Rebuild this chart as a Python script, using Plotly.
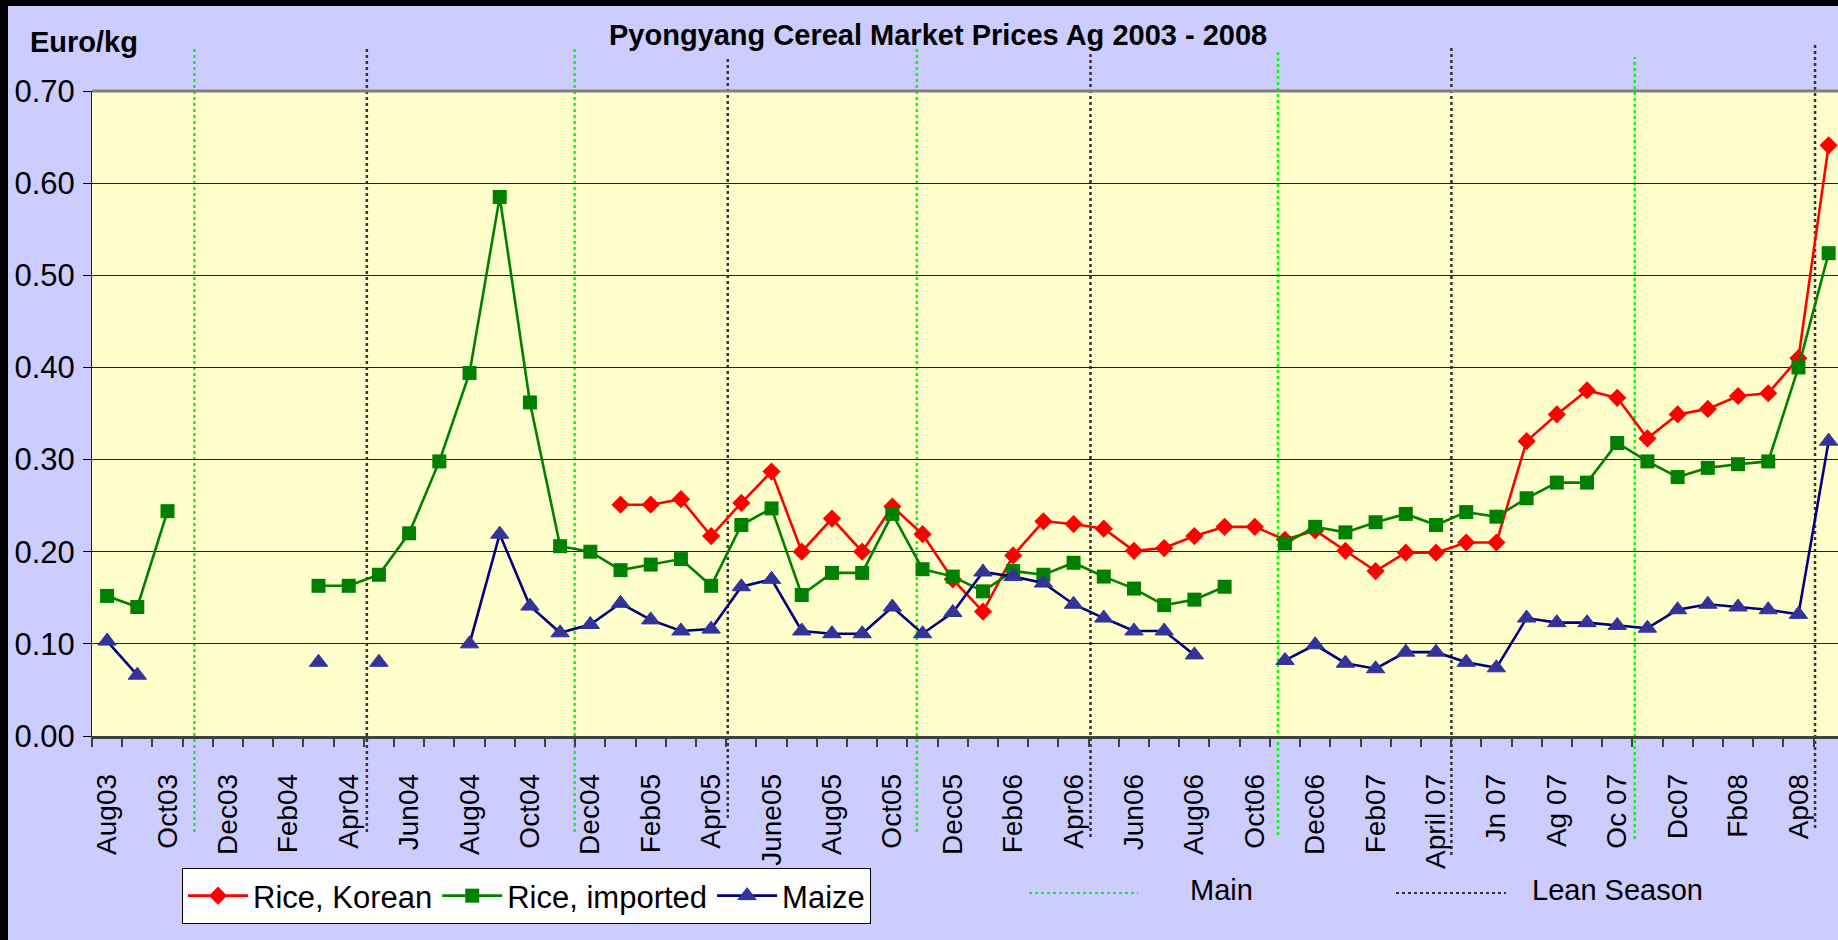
import plotly.graph_objects as go

# ---------------- data ----------------
months = ["Aug03", "Sep03", "Oct03", "Nov03", "Dec03", "Jan04", "Feb04", "Mar04", "Apr04", "May04", "Jun04", "Jul04",
          "Aug04", "Sep04", "Oct04", "Nov04", "Dec04", "Jan05", "Feb05", "Mar05", "Apr05", "May05", "Jun05", "Jul05",
          "Aug05", "Sep05", "Oct05", "Nov05", "Dec05", "Jan06", "Feb06", "Mar06", "Apr06", "May06", "Jun06", "Jul06",
          "Aug06", "Sep06", "Oct06", "Nov06", "Dec06", "Jan07", "Feb07", "Mar07", "Apr07", "May07", "Jun07", "Jul07",
          "Aug07", "Sep07", "Oct07", "Nov07", "Dec07", "Jan08", "Feb08", "Mar08", "Apr08", "May08"]

tick_labels = ["Aug03", "Oct03", "Dec03", "Feb04", "Apr04", "Jun04", "Aug04", "Oct04", "Dec04", "Feb05",
               "Apr05", "June05", "Aug05", "Oct05", "Dec05", "Feb06", "Apr06", "Jun06", "Aug06", "Oct06",
               "Dec06", "Feb07", "April 07", "Jn 07", "Ag 07", "Oc 07", "Dc07", "Fb08", "Ap08"]

rice_korean = [None, None, None, None, None, None, None, None, None, None, None, None,
               None, None, None, None, None, 0.251, 0.251, 0.257, 0.217, 0.253, 0.287, 0.200,
               0.236, 0.200, 0.249, 0.219, 0.170, 0.135, 0.196, 0.233, 0.230, 0.225, 0.201, 0.204,
               0.217, 0.227, 0.227, 0.213, 0.223, 0.201, 0.179, 0.199, 0.199, 0.210, 0.210, 0.320,
               0.349, 0.375, 0.367, 0.323, 0.349, 0.355, 0.369, 0.372, 0.410, 0.641]

rice_imported = [0.152, 0.140, 0.244, None, None, None, None, 0.163, 0.163, 0.175, 0.220, 0.298,
                 0.394, 0.585, 0.362, 0.206, 0.200, 0.180, 0.186, 0.192, 0.163, 0.229, 0.247, 0.153,
                 0.177, 0.177, 0.241, 0.181, 0.173, 0.157, 0.179, 0.175, 0.188, 0.173, 0.160, 0.142,
                 0.148, 0.162, None, 0.209, 0.227, 0.221, 0.232, 0.241, 0.229, 0.243, 0.238, 0.258,
                 0.275, 0.275, 0.318, 0.298, 0.281, 0.291, 0.295, 0.298, 0.400, 0.524]

maize = [0.103, 0.066, None, None, None, None, None, 0.080, None, 0.080, None, None,
         0.100, 0.219, 0.141, 0.112, 0.121, 0.144, 0.126, 0.114, 0.116, 0.162, 0.170, 0.114,
         0.111, 0.111, 0.140, 0.111, 0.134, 0.178, 0.173, 0.166, 0.143, 0.128, 0.114, 0.114,
         0.088, None, None, 0.082, 0.099, 0.079, 0.073, 0.091, 0.091, 0.080, 0.074, 0.128,
         0.123, 0.123, 0.120, 0.117, 0.137, 0.143, 0.140, 0.137, 0.132, 0.320]

# season marker lines (positions in category units)
main_season_x = [2.89, 15.48, 26.81, 38.77, 50.58]
lean_season_x = [8.60, 20.55, 32.56, 44.51, 56.55]

# ---------------- layout geometry (pixels) ----------------
FIG_W, FIG_H = 1838, 940
L, R, T, B = 92, 1838, 91, 736
PW, PH = R - L, B - T


def px_x(px):
    return (px - L) / PW


def px_y(py):
    return (B - py) / PH


FONT = "Liberation Sans, Arial, Helvetica, sans-serif"

fig = go.Figure()
fig.add_trace(go.Scatter(
    x=months, y=rice_korean, name="Rice, Korean", mode="lines+markers",
    line=dict(color="#FF0000", width=2.6),
    marker=dict(symbol="diamond", size=14, color="#FF0000"),
))
fig.add_trace(go.Scatter(
    x=months, y=rice_imported, name="Rice, imported", mode="lines+markers",
    line=dict(color="#008000", width=2.6),
    marker=dict(symbol="square", size=14, color="#008000"),
))
fig.add_trace(go.Scatter(
    x=months, y=maize, name="Maize", mode="lines+markers",
    line=dict(color="#000080", width=2.6),
    marker=dict(symbol="triangle-up", size=16, color="#333399",
                line=dict(color="#333399", width=1)),
))

shapes = []
main_tops = [48, 48, 48, 52, 57]
main_bottoms = [832, 832, 832, 835, 839]
lean_tops = [48, 57, 52, 45, 45]
lean_bottoms = [832, 818, 837, 855, 828]
for xv, t, b in zip(main_season_x, main_tops, main_bottoms):
    shapes.append(dict(type="line", xref="x", yref="paper", x0=xv, x1=xv,
                       y0=px_y(b), y1=px_y(t), layer="between",
                       line=dict(color="#00FF00", width=2.5, dash="dot")))
for xv, t, b in zip(lean_season_x, lean_tops, lean_bottoms):
    shapes.append(dict(type="line", xref="x", yref="paper", x0=xv, x1=xv,
                       y0=px_y(b), y1=px_y(t), layer="between",
                       line=dict(color="#333333", width=2.5, dash="dot")))

# top border of plot area
shapes.append(dict(type="line", xref="paper", yref="paper", x0=0, x1=1, y0=1, y1=1,
                   line=dict(color="#808080", width=3)))
# black frame at left and top of image
shapes.append(dict(type="rect", xref="paper", yref="paper", x0=px_x(0), x1=px_x(8),
                   y0=px_y(FIG_H), y1=px_y(0), fillcolor="black", line=dict(width=0)))
shapes.append(dict(type="rect", xref="paper", yref="paper", x0=px_x(0), x1=px_x(FIG_W),
                   y0=px_y(6), y1=px_y(0), fillcolor="black", line=dict(width=0)))
# season legend samples
shapes.append(dict(type="line", xref="paper", yref="paper", x0=px_x(1029), x1=px_x(1138),
                   y0=px_y(893), y1=px_y(893), line=dict(color="#00FF00", width=2, dash="dot")))
shapes.append(dict(type="line", xref="paper", yref="paper", x0=px_x(1396), x1=px_x(1506),
                   y0=px_y(893), y1=px_y(893), line=dict(color="#333333", width=2, dash="dot")))

annotations = [
    dict(text="<b>Pyongyang Cereal Market Prices Ag 2003 - 2008</b>", xref="paper", yref="paper",
         x=px_x(938), y=px_y(35), xanchor="center", yanchor="middle", showarrow=False,
         font=dict(family=FONT, size=29, color="black")),
    dict(text="<b>Euro/kg</b>", xref="paper", yref="paper",
         x=px_x(28), y=px_y(42), xanchor="left", yanchor="middle", showarrow=False,
         font=dict(family=FONT, size=29, color="black")),
    dict(text="Main", xref="paper", yref="paper",
         x=px_x(1188), y=px_y(890), xanchor="left", yanchor="middle", showarrow=False,
         font=dict(family=FONT, size=29, color="black")),
    dict(text="Lean Season", xref="paper", yref="paper",
         x=px_x(1530), y=px_y(890), xanchor="left", yanchor="middle", showarrow=False,
         font=dict(family=FONT, size=29, color="black")),
]

fig.update_layout(
    width=FIG_W, height=FIG_H,
    margin=dict(l=L, r=FIG_W - R, t=T, b=FIG_H - B, autoexpand=False),
    paper_bgcolor="#CCCCFF",
    plot_bgcolor="#FFFFCC",
    font=dict(family=FONT, color="black"),
    showlegend=True,
    legend=dict(orientation="h", x=px_x(182), y=px_y(868), xanchor="left", yanchor="top",
                bgcolor="white", bordercolor="black", borderwidth=1,
                font=dict(family=FONT, size=31, color="black"),
                itemwidth=60),
    shapes=shapes,
    annotations=annotations,
)

fig.update_xaxes(
    type="category", categoryorder="array", categoryarray=months,
    range=[-0.5, 57.31], automargin=False,
    tickmode="array", tickvals=months[::2], ticktext=tick_labels,
    tickangle=-90, tickfont=dict(family=FONT, size=28, color="black"),
    ticks="outside", ticklen=8, tickcolor="rgba(0,0,0,0)", ticklabelstandoff=16,
    minor=dict(tickmode="array", tickvals=[i - 0.5 for i in range(len(months) + 1)],
               ticks="outside", ticklen=8, tickcolor="#404040", tickwidth=1.5),
    showline=True, linecolor="#404040", linewidth=2.5,
    showgrid=False, zeroline=False,
)
fig.update_yaxes(
    range=[0, 0.7], automargin=False,
    tickmode="linear", tick0=0, dtick=0.1, tickformat=".2f",
    tickfont=dict(family=FONT, size=31, color="black"),
    ticks="outside", ticklen=8, tickcolor="black", tickwidth=1, ticklabelstandoff=2,
    showline=True, linecolor="#202020", linewidth=1,
    showgrid=True, gridcolor="#202020", gridwidth=1, zeroline=False,
)

fig.write_html(
    "out.html",
    config={"displayModeBar": False},
    post_script="document.body.style.margin='0';document.body.style.overflow='hidden';",
)
